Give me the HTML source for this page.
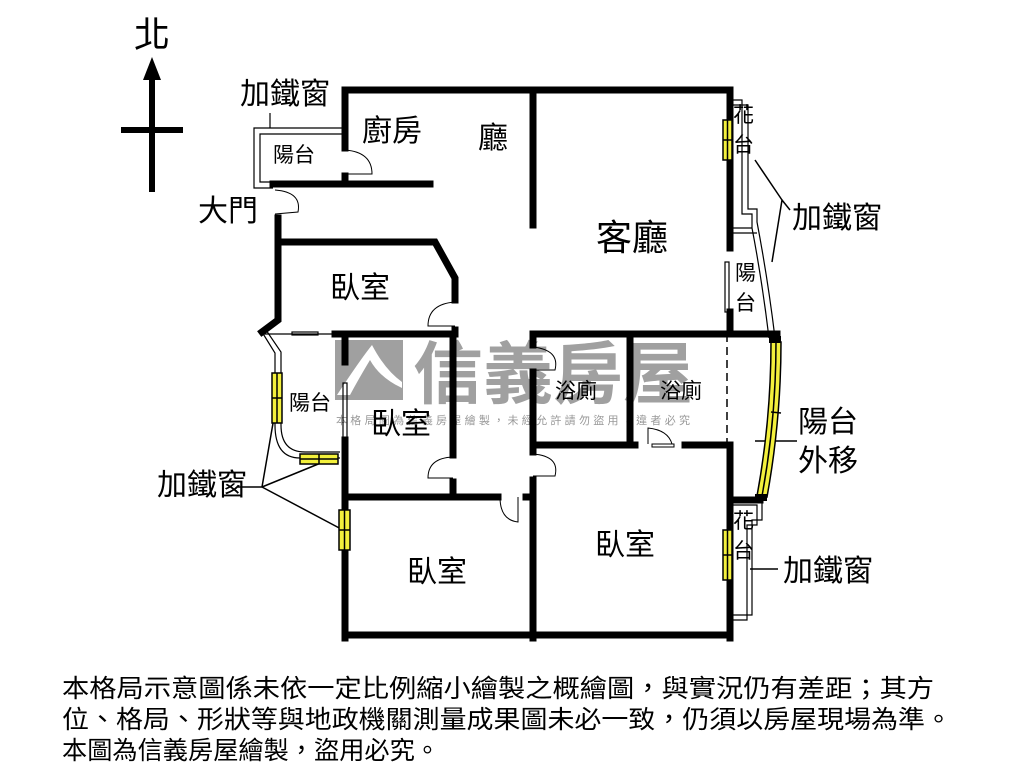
<!DOCTYPE html>
<html><head><meta charset="utf-8"><style>
html,body{margin:0;padding:0;background:#fff;}
svg{display:block;font-family:"Liberation Sans","Noto Sans CJK TC",sans-serif;}
</style></head><body>
<svg width="1024" height="768" viewBox="0 0 1024 768" xmlns="http://www.w3.org/2000/svg">
<rect width="1024" height="768" fill="#fff"/>
<!-- watermark -->
<rect x="335" y="340" width="68" height="60" fill="#a0a0a0"/>
<path d="M337 395 Q360 360 372 345 Q385 370 402 382 L402 388 Q380 378 370 360 Q358 380 350 395 Z" fill="#fff"/>
<text x="413" y="398" font-size="68" fill="#a0a0a0" font-weight="bold" textLength="280" lengthAdjust="spacingAndGlyphs">信義房屋</text>
<text x="336" y="424" font-size="11" fill="#999" textLength="354" lengthAdjust="spacing">本格局圖為信義房屋繪製，未經允許請勿盜用，違者必究</text>

<!-- compass -->
<text x="134" y="47" font-size="36">北</text>
<line x1="152" y1="75" x2="152" y2="192" stroke="#000" stroke-width="6"/>
<polygon points="152,57 143,80 161,80" fill="#000"/>
<line x1="121" y1="130" x2="183" y2="130" stroke="#000" stroke-width="6"/>

<!-- thin balcony outlines -->
<g fill="none" stroke="#000" stroke-width="1.2">
<path d="M345 128 L254 128 L254 188 L273 188"/>
<path d="M345 134 L260 134 L260 182 L273 182"/>
<line x1="270" y1="113" x2="270" y2="128"/>
<path d="M730 105 L748 105 L748 209 L757 209 L757 222 Q768 280 775 338"/>
<path d="M730 100 L742 100 L742 214 L752 214 L752 228 Q762 280 769 338"/>
<path d="M730 228 L752 228"/>
<path d="M730 233 L757 233"/>
<rect x="725" y="262" width="4" height="50"/>
<path d="M262 332 L275 353 L275 425 Q275 458 300 458 L340 458"/>
<path d="M266 330 L281 352 L281 425 Q281 452 305 452 L340 452"/>
<line x1="262" y1="334" x2="335" y2="334"/>
<rect x="292" y="332" width="26" height="3"/>
<rect x="343" y="383" width="4" height="57"/>
<path d="M730 500 L762 500 L762 520 L752 520 L752 615 L730 615"/>
<path d="M730 505 L757 505 L757 525 L747 525 L747 620 L730 620"/>
</g>
<!-- pointer lines -->
<g stroke="#000" stroke-width="1.5" fill="none">
<path d="M755 160 L782 200 L772 262"/>
<line x1="782" y1="200" x2="790" y2="210"/>
<path d="M262 487 L277 400 M262 487 L333 458 M262 487 L343 530"/>
<line x1="238" y1="487" x2="262" y2="487"/>
<line x1="755" y1="441" x2="797" y2="441"/>
<line x1="750" y1="569" x2="778" y2="569"/>
</g>

<!-- thick walls -->
<g stroke="#000" stroke-width="7" fill="none" stroke-linecap="square">
<polyline points="345,148 345,90 730,90 730,248"/>
<line x1="730" y1="312" x2="730" y2="334"/>
<line x1="273" y1="184" x2="430" y2="184"/>
<line x1="345" y1="176" x2="345" y2="184"/>
<line x1="533" y1="90" x2="533" y2="225"/>
<polyline points="278,218 278,320 262,332"/>
<polyline points="278,242 435,242 455,278 455,300"/>
<line x1="455" y1="330" x2="455" y2="334"/>
<line x1="335" y1="334" x2="455" y2="334"/>
<line x1="345" y1="334" x2="345" y2="362"/>
<line x1="345" y1="440" x2="345" y2="638"/>
<line x1="453" y1="334" x2="453" y2="455"/>
<line x1="453" y1="482" x2="453" y2="497"/>
<line x1="345" y1="497" x2="498" y2="497"/>
<line x1="533" y1="334" x2="533" y2="345"/>
<line x1="533" y1="372" x2="533" y2="452"/>
<line x1="533" y1="480" x2="533" y2="638"/>
<line x1="526" y1="497" x2="533" y2="497"/>
<line x1="533" y1="334" x2="777" y2="334"/>
<line x1="630" y1="334" x2="630" y2="445"/>
<line x1="533" y1="445" x2="635" y2="445"/>
<line x1="685" y1="445" x2="730" y2="445"/>
<line x1="730" y1="445" x2="730" y2="638"/>
<line x1="730" y1="500" x2="760" y2="500"/>
<line x1="345" y1="635" x2="730" y2="635"/>
</g>
<line x1="727" y1="334" x2="727" y2="445" stroke="#000" stroke-width="1.5" stroke-dasharray="8,5"/>

<!-- doors -->
<g stroke="#000" stroke-width="1" fill="none">
<path d="M345 150 Q372 152 372 174 L345 174"/>
<path d="M275 190 Q302 192 298 212 L275 214"/>
<path d="M455 302 Q428 304 428 326 L455 326"/>
<path d="M453 457 Q428 458 428 478 L453 478"/>
<path d="M533 347 Q560 350 555 370 L533 370"/>
<path d="M533 454 Q560 456 555 476 L533 476"/>
<path d="M500 497 Q500 520 518 522 L518 497"/>
<path d="M648 444 L648 428 Q668 430 672 444"/>
<rect x="652" y="444" width="22" height="3"/>
</g>

<!-- yellow windows -->
<g fill="#f3f03c" stroke="#000" stroke-width="1.5">
<rect x="723" y="120" width="9" height="40"/><line x1="727.5" y1="120" x2="727.5" y2="160"/><line x1="723" y1="140" x2="732" y2="140"/>
<rect x="723" y="530" width="9" height="50"/><line x1="727.5" y1="530" x2="727.5" y2="580"/><line x1="723" y1="555" x2="732" y2="555"/>
<rect x="339" y="510" width="11" height="40"/><line x1="344.5" y1="510" x2="344.5" y2="550"/><line x1="339" y1="530" x2="350" y2="530"/>
<rect x="272" y="373" width="10" height="50"/><line x1="277" y1="373" x2="277" y2="423"/><line x1="272" y1="398" x2="282" y2="398"/>
<rect x="300" y="454" width="38" height="10"/><line x1="300" y1="459" x2="338" y2="459"/><line x1="319" y1="454" x2="319" y2="464"/>
<path d="M771 342 Q771 420 757 496 L767 497 Q781 420 781 342 Z"/>
<path d="M776 342 Q776 420 762 496"/>
<line x1="771" y1="412" x2="781" y2="413"/>
</g>
<rect x="769" y="336" width="12" height="7" fill="#000"/>
<rect x="755" y="494" width="12" height="7" fill="#000"/>

<!-- labels -->
<g font-size="30" fill="#000">
<text x="240" y="104">加鐵窗</text>
<text x="362" y="141">廚房</text>
<text x="478" y="148">廳</text>
<text x="198" y="221">大門</text>
<text x="596" y="250" font-size="36">客廳</text>
<text x="330" y="298">臥室</text>
<text x="371" y="434">臥室</text>
<text x="407" y="582">臥室</text>
<text x="595" y="555">臥室</text>
<text x="792" y="228">加鐵窗</text>
<text x="798" y="432">陽台</text>
<text x="798" y="471">外移</text>
<text x="157" y="495">加鐵窗</text>
<text x="783" y="581">加鐵窗</text>
</g>
<g font-size="21" fill="#000">
<text x="273" y="162">陽台</text>
<text x="289" y="410">陽台</text>
<text x="555" y="398">浴廁</text>
<text x="660" y="398">浴廁</text>
<text x="735" y="280">陽</text>
<text x="735" y="310">台</text>
<text x="733" y="122">花</text>
<text x="733" y="152">台</text>
<text x="733" y="528">花</text>
<text x="733" y="558">台</text>
</g>
<g font-size="25" fill="#000">
<text x="62" y="697" textLength="872" lengthAdjust="spacingAndGlyphs">本格局示意圖係未依一定比例縮小繪製之概繪圖，與實況仍有差距；其方</text>
<text x="62" y="728" textLength="890" lengthAdjust="spacingAndGlyphs">位、格局、形狀等與地政機關測量成果圖未必一致，仍須以房屋現場為準。</text>
<text x="62" y="759" textLength="378" lengthAdjust="spacingAndGlyphs">本圖為信義房屋繪製，盜用必究。</text>
</g>
</svg>
</body></html>
